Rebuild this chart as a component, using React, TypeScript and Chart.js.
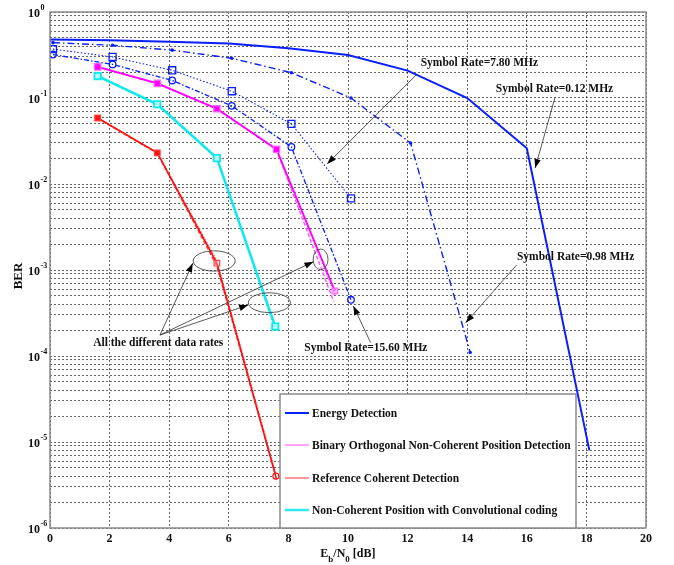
import React, { useEffect, useRef } from 'react';
import { Chart, registerables } from 'chart.js';

Chart.register(...registerables);

const FONT = '"Liberation Serif", "Times New Roman", serif';

// ---------- axis ticks ----------
const xTickValues = [0, 2, 4, 6, 8, 10, 12, 14, 16, 18, 20];
const yDecadeExponents = [0, -1, -2, -3, -4, -5, -6];

// ---------- data ----------
// Energy detection, symbol rate 0.12 MHz (solid)
const energyX = [0, 2, 4, 6, 8, 10, 12, 14, 16, 18.1];
const energyBER = [0.48, 0.47, 0.45, 0.43, 0.378, 0.316, 0.208, 0.1, 0.026, 8e-6];

// Energy detection, symbol rate 0.98 MHz (dash-dot with dots)
const rate098X = [0.1, 2.1, 4.1, 6.1, 8.1, 10.1, 12.1, 14.1];
const rate098BER = [0.44, 0.41, 0.36, 0.29, 0.197, 0.1, 0.03, 1.1e-4];

// Energy detection, symbol rate 7.80 MHz (dotted with squares)
const rate780X = [0.1, 2.1, 4.1, 6.1, 8.1, 10.1];
const rate780BER = [0.37, 0.3, 0.21, 0.12, 0.05, 0.0068];

// Energy detection, symbol rate 15.60 MHz (dashed with circles)
const rate1560X = [0.1, 2.1, 4.1, 6.1, 8.1, 10.1];
const rate1560BER = [0.32, 0.246, 0.16, 0.081, 0.027, 4.5e-4];

// Binary orthogonal non-coherent position detection (several data rates)
const binaryX_A = [1.6, 3.6, 5.6, 7.6, 9.56];
const binaryBER_A = [0.23, 0.148, 0.075, 0.0253, 5.7e-4];
const binaryX_B = [1.6, 3.6, 5.6, 7.6, 9.52];
const binaryBER_B = [0.228, 0.147, 0.074, 0.025, 4.3e-4];
const binaryX_C = [1.6, 3.6, 5.6, 7.6, 9.58];
const binaryBER_C = [0.232, 0.149, 0.076, 0.0256, 5.0e-4];

// Reference coherent detection (several data rates)
const refX_A = [1.6, 3.6, 5.6, 7.6];
const refBER_A = [0.0585, 0.023, 1.2e-3, 3.7e-6];
const refX_B = [1.6, 3.6, 5.6, 7.58];
const refBER_B = [0.058, 0.0228, 1.12e-3, 4.0e-6];
const refX_C = [1.6, 3.6, 5.6, 7.55];
const refBER_C = [0.059, 0.0232, 1.28e-3, 4.6e-6];

// Non-coherent position with convolutional coding (several data rates)
const convX_A = [1.6, 3.6, 5.6, 7.56];
const convBER_A = [0.18, 0.0845, 0.02, 2.2e-4];
const convX_B = [1.6, 3.6, 5.6, 7.56];
const convBER_B = [0.182, 0.085, 0.0205, 2.05e-4];

const legendLabels = [
  'Energy Detection',
  'Binary Orthogonal Non-Coherent Position Detection',
  'Reference Coherent Detection',
  'Non-Coherent Position with Convolutional coding',
];

// annotation texts
const label780 = 'Symbol Rate=7.80 MHz';
const label012 = 'Symbol Rate=0.12 MHz';
const label098 = 'Symbol Rate=0.98 MHz';
const label1560 = 'Symbol Rate=15.60 MHz';
const labelRates = 'All the different data rates';

const pts = (xs: number[], ys: number[]) => xs.map((x, i) => ({ x, y: ys[i] }));

const BLUE = '#0a1eff';
const MAGENTA = '#ff00ff';
const RED = '#ff1010';
const CYAN = '#10e8f0';
const TEXT_FONT = 'bold 11.5px ' + FONT;

const overlayPlugin = {
  id: 'overlay',
  beforeDraw(chart: any) {
    const { ctx } = chart;
    ctx.save();
    ctx.fillStyle = '#ffffff';
    ctx.fillRect(0, 0, chart.width, chart.height);
    ctx.restore();
  },
  afterDraw(chart: any) {
    const { ctx, chartArea: a, scales } = chart;
    const xs = scales.x;
    const ys = scales.y;
    const X = (v: number) => xs.getPixelForValue(v);
    const Y = (lg: number) => ys.getPixelForValue(Math.pow(10, lg));
    ctx.save();

    // plot border
    ctx.strokeStyle = '#8a8a8a';
    ctx.lineWidth = 1.5;
    ctx.setLineDash([]);
    ctx.strokeRect(a.left, a.top, a.right - a.left, a.bottom - a.top);

    // ---- annotations ----
    const arrow = (x1: number, y1: number, x2: number, y2: number) => {
      ctx.strokeStyle = '#303030';
      ctx.fillStyle = '#000000';
      ctx.lineWidth = 0.8;
      ctx.setLineDash([]);
      ctx.beginPath();
      ctx.moveTo(x1, y1);
      ctx.lineTo(x2, y2);
      ctx.stroke();
      const ang = Math.atan2(y2 - y1, x2 - x1);
      const L = 9;
      const W = 3.2;
      const bx = x2 - L * Math.cos(ang);
      const by = y2 - L * Math.sin(ang);
      ctx.beginPath();
      ctx.moveTo(x2, y2);
      ctx.lineTo(bx + W * Math.sin(ang), by - W * Math.cos(ang));
      ctx.lineTo(bx - W * Math.sin(ang), by + W * Math.cos(ang));
      ctx.closePath();
      ctx.fill();
    };
    const ellipse = (cx: number, cy: number, rx: number, ry: number) => {
      ctx.strokeStyle = '#303030';
      ctx.lineWidth = 0.8;
      ctx.setLineDash([]);
      ctx.beginPath();
      ctx.ellipse(cx, cy, rx, ry, 0, 0, Math.PI * 2);
      ctx.stroke();
    };
    const text = (s: string, x: number, y: number, align: CanvasTextAlign) => {
      ctx.fillStyle = '#111111';
      ctx.font = TEXT_FONT;
      ctx.textAlign = align;
      ctx.textBaseline = 'middle';
      ctx.fillText(s, x, y);
    };

    text(label780, X(12.44), Y(-0.598), 'left');
    arrow(X(12.32), Y(-0.721), X(9.3), Y(-1.767));
    text(label012, X(14.96), Y(-0.895), 'left');
    arrow(X(16.95), Y(-0.988), X(16.28), Y(-1.814));
    text(label098, X(15.67), Y(-2.852), 'left');
    arrow(X(15.66), Y(-2.942), X(13.95), Y(-3.613));
    text(label1560, X(10.6), Y(-3.91), 'center');
    arrow(X(10.76), Y(-3.845), X(10.18), Y(-3.419));
    text(labelRates, X(1.45), Y(-3.845), 'left');
    arrow(X(3.69), Y(-3.756), X(4.79), Y(-2.922));
    arrow(X(3.69), Y(-3.756), X(6.65), Y(-3.407));
    arrow(X(3.69), Y(-3.756), X(8.84), Y(-2.903));
    const pxPerUnit = X(1) - X(0);
    const pxPerDec = Y(-1) - Y(0);
    ellipse(X(5.51), Y(-2.895), 0.705 * pxPerUnit, 0.118 * pxPerDec);
    ellipse(X(9.08), Y(-2.876), 0.25 * pxPerUnit, 0.12 * pxPerDec);
    ellipse(X(7.36), Y(-3.38), 0.705 * pxPerUnit, 0.116 * pxPerDec);

    // ---- legend ----
    const lgLeft = a.left + 230;
    const lgRight = a.left + 526;
    const lgTop = a.top + 382;
    ctx.fillStyle = '#ffffff';
    ctx.fillRect(lgLeft, lgTop, lgRight - lgLeft, a.bottom - lgTop);
    ctx.strokeStyle = '#8a8a8a';
    ctx.lineWidth = 1.5;
    ctx.strokeRect(lgLeft, lgTop, lgRight - lgLeft, a.bottom - lgTop);
    const lgStyles = [
      { c: BLUE, w: 2 },
      { c: '#ff88ff', w: 1.5 },
      { c: '#ff3030', w: 1 },
      { c: '#30e8f0', w: 2.5 },
    ];
    const rowY = [19, 51, 84, 116];
    legendLabels.forEach((lab, i) => {
      const yy = lgTop + rowY[i];
      ctx.strokeStyle = lgStyles[i].c;
      ctx.lineWidth = lgStyles[i].w;
      ctx.beginPath();
      ctx.moveTo(lgLeft + 5, yy);
      ctx.lineTo(lgLeft + 29, yy);
      ctx.stroke();
      ctx.fillStyle = '#111111';
      ctx.font = TEXT_FONT;
      ctx.textAlign = 'left';
      ctx.textBaseline = 'middle';
      ctx.fillText(lab, lgLeft + 32, yy + 1);
    });

    // ---- tick labels ----
    ctx.fillStyle = '#111111';
    ctx.font = 'bold 12px ' + FONT;
    ctx.textAlign = 'center';
    ctx.textBaseline = 'middle';
    xTickValues.forEach((v) => {
      ctx.fillText(String(v), X(v), a.bottom + 10.5);
    });
    yDecadeExponents.forEach((e) => {
      const yy = Y(e);
      ctx.font = 'bold 12px ' + FONT;
      ctx.textAlign = 'right';
      ctx.textBaseline = 'middle';
      ctx.fillText('10', a.left - 10, yy + 1.5);
      ctx.font = 'bold 8px ' + FONT;
      ctx.textAlign = 'left';
      ctx.fillText(String(e), a.left - 9.5, yy - 4);
    });

    // ---- axis titles ----
    ctx.save();
    ctx.translate(19, (a.top + a.bottom) / 2 + 6);
    ctx.rotate(-Math.PI / 2);
    ctx.font = 'bold 13px ' + FONT;
    ctx.textAlign = 'center';
    ctx.textBaseline = 'middle';
    ctx.fillText('BER', 0, 0);
    ctx.restore();

    const parts: [string, boolean][] = [['E', false], ['b', true], ['/N', false], ['0', true], [' [dB]', false]];
    let tx = X(9.07);
    const base = a.bottom + 29;
    ctx.textAlign = 'left';
    ctx.textBaseline = 'alphabetic';
    parts.forEach(([s, sub]) => {
      ctx.font = sub ? 'bold 9px ' + FONT : 'bold 12px ' + FONT;
      ctx.fillText(s, tx, sub ? base + 5 : base);
      tx += ctx.measureText(s).width;
    });

    ctx.restore();
  },
};

export default function App() {
  const ref = useRef<HTMLCanvasElement>(null);
  useEffect(() => {
    if (!ref.current) return;
    const yTicks: number[] = [1];
    for (let e = -6; e < 0; e++) {
      for (let m = 1; m <= 9; m++) yTicks.push(m * Math.pow(10, e));
    }
    const line = (data: any, color: string, width: number, dash: number[], extra: any = {}) => ({
      data,
      borderColor: color,
      borderWidth: width,
      borderDash: dash,
      pointRadius: 0,
      fill: false,
      tension: 0,
      ...extra,
    });
    const chart = new Chart(ref.current, {
      type: 'line',
      data: {
        datasets: [
          line(pts(energyX, energyBER), BLUE, 2, []),
          line(pts(rate098X, rate098BER), BLUE, 1.4, [7, 3, 1.5, 3], {
            pointRadius: 1.8, pointStyle: 'circle', pointBackgroundColor: BLUE, pointBorderColor: BLUE, pointBorderWidth: 0,
          }),
          line(pts(rate780X, rate780BER), BLUE, 1.1, [1.5, 2], {
            pointRadius: 5, pointStyle: 'rect', pointBackgroundColor: 'rgba(0,0,0,0)', pointBorderColor: BLUE, pointBorderWidth: 1.3,
          }),
          line(pts(rate1560X, rate1560BER), BLUE, 1.3, [5, 2, 1.5, 2], {
            pointRadius: 3.3, pointStyle: 'circle', pointBackgroundColor: 'rgba(0,0,0,0)', pointBorderColor: BLUE, pointBorderWidth: 1.3,
          }),
          line(pts(binaryX_A, binaryBER_A), MAGENTA, 1.8, [], {
            pointRadius: [4.5, 4.5, 4.5, 4.5, 4],
            pointStyle: 'rect',
            pointBackgroundColor: [MAGENTA, MAGENTA, MAGENTA, MAGENTA, 'rgba(255,160,255,0.6)'],
            pointBorderColor: '#ff66ff',
            pointBorderWidth: 1.2,
          }),
          line(pts(binaryX_B, binaryBER_B), '#ff55ff', 1.4, [4, 2]),
          line(pts(binaryX_C, binaryBER_C), '#ff33ff', 1.2, [1.5, 1.5]),
          line(pts(convX_A, convBER_A), CYAN, 2.5, [], {
            pointRadius: 4.5, pointStyle: 'rect', pointBackgroundColor: '#b8ffff', pointBorderColor: CYAN, pointBorderWidth: 1.8,
          }),
          line(pts(convX_B, convBER_B), CYAN, 1.5, [3, 2]),
          line(pts(refX_A, refBER_A), RED, 1.6, [], {
            pointRadius: [4, 4, 4, 0],
            pointStyle: 'rect',
            pointBackgroundColor: [RED, RED, 'rgba(255,255,255,0.3)', RED],
            pointBorderColor: '#ff4040',
            pointBorderWidth: 1.2,
          }),
          line(pts(refX_B, refBER_B), '#ff3333', 1.5, [4, 2], {
            pointRadius: [0, 0, 0, 3], pointStyle: 'circle', pointBackgroundColor: '#ffffff', pointBorderColor: RED, pointBorderWidth: 1.2,
          }),
          line(pts(refX_C, refBER_C), '#ff5555', 1.2, [1.5, 1.5]),
        ],
      },
      options: {
        responsive: false,
        animation: false,
        layout: { padding: { left: 50, right: 28, top: 12, bottom: 37 } },
        plugins: { legend: { display: false }, tooltip: { enabled: false } },
        scales: {
          x: {
            type: 'linear',
            min: 0,
            max: 20,
            ticks: { display: false, stepSize: 2 },
            grid: { drawTicks: false, color: 'rgba(0,0,0,0.6)', lineWidth: 1 },
            border: { display: false, dash: [2, 2] },
          },
          y: {
            type: 'logarithmic',
            min: 1e-6,
            max: 1,
            afterBuildTicks: (scale: any) => {
              scale.ticks = yTicks.map((v) => ({ value: v }));
            },
            ticks: { display: false },
            grid: { drawTicks: false, color: 'rgba(0,0,0,0.6)', lineWidth: 1 },
            border: { display: false, dash: [2, 2] },
          },
        },
      },
      plugins: [overlayPlugin],
    } as any);
    return () => chart.destroy();
  }, []);
  return (
    <canvas ref={ref} width={674} height={565} style={{ position: 'absolute', left: 0, top: 0 }} />
  );
}
